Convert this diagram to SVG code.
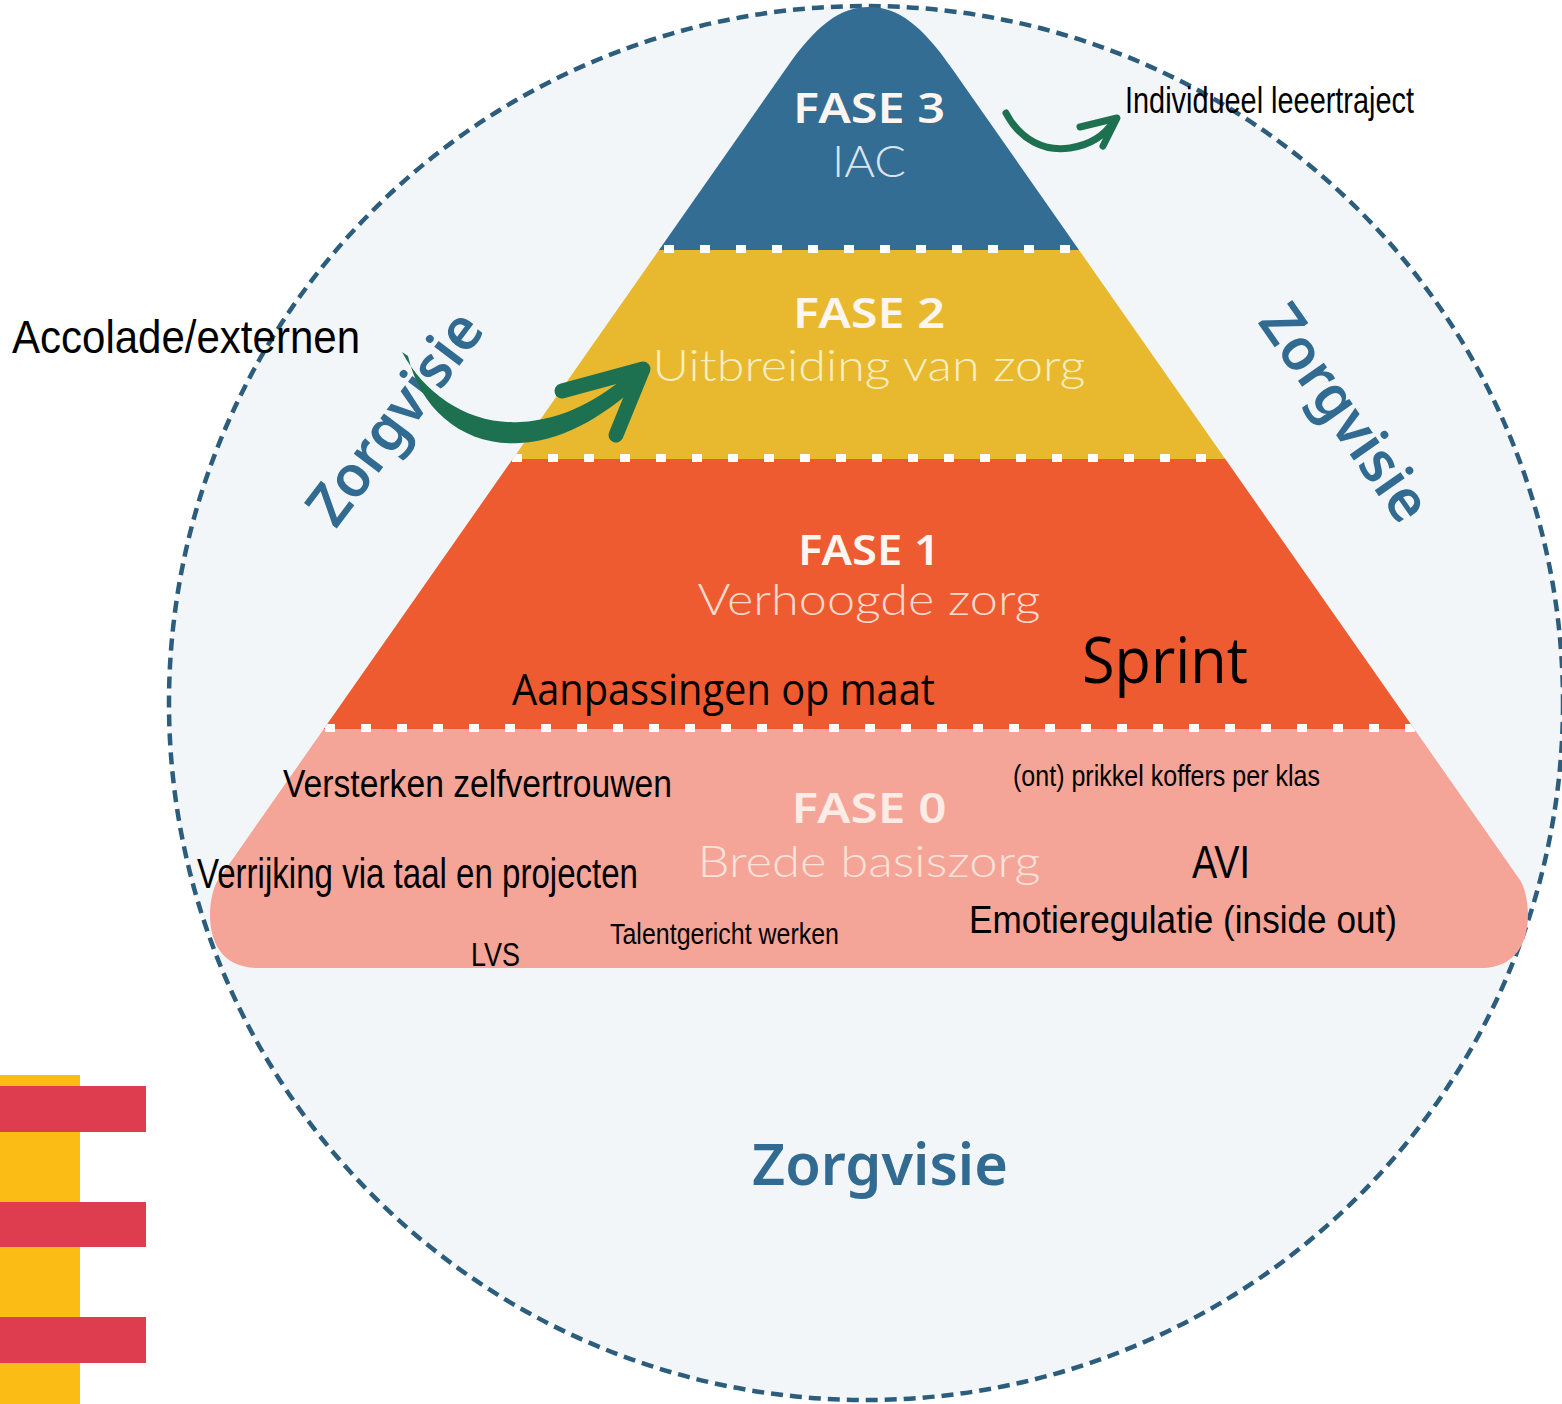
<svg xmlns="http://www.w3.org/2000/svg" width="1562" height="1404" viewBox="0 0 1562 1404">
<style>
.fase{font-family:"Noto Sans","Open Sans",sans-serif;font-weight:600;fill:#fdf5f0;text-anchor:middle}
.sub{font-family:Lato,"Open Sans",sans-serif;font-weight:300;text-anchor:middle}
.zv{font-family:"Noto Sans","Open Sans",sans-serif;font-weight:600;fill:#316b92;text-anchor:middle}
.blk{font-family:"Liberation Sans",Arial,sans-serif;fill:#000}
.cal{font-family:"Open Sans","Liberation Sans",sans-serif;fill:#000}
.sep{stroke:#ffffff;stroke-width:8;stroke-dasharray:10 26;fill:none}
.arrow{fill:none;stroke:#1e7150;stroke-linecap:round;stroke-linejoin:round}
</style>
<defs>
<clipPath id="pyr">
<path d="M785,70 C816,25 840,7 869,7 C898,7 922,25 953,70 L1520,880 C1531,896 1540,968 1480,968 L258,968 C198,968 207,896 218,880 Z"/>
</clipPath>
</defs>
<rect width="1562" height="1404" fill="#ffffff"/>
<circle id="circle" cx="866" cy="703" r="697" fill="#f3f6f9" stroke="#2c5d7c" stroke-width="4.5" stroke-dasharray="12 7"/>

<g id="pyramid" clip-path="url(#pyr)">
<g id="fase3"><rect x="0" y="0" width="1562" height="250" fill="#336d94"/></g>
<g id="fase2"><rect x="0" y="250" width="1562" height="209" fill="#e8b92e"/></g>
<g id="fase1"><rect x="0" y="459" width="1562" height="270" fill="#ef5b31"/></g>
<g id="fase0"><rect x="0" y="729" width="1562" height="260" fill="#f4a597"/></g>
<line class="sep" x1="664" y1="249" x2="1080" y2="249"/>
<line class="sep" x1="512" y1="458" x2="1230" y2="458"/>
<line class="sep" x1="325" y1="728" x2="1420" y2="728"/>
</g>

<g id="fase-labels">
<text class="fase" x="869" y="123" font-size="42" textLength="152" lengthAdjust="spacingAndGlyphs">FASE 3</text>
<text class="sub" x="869" y="177" font-size="44" fill="#d9e4ed" textLength="74" lengthAdjust="spacingAndGlyphs">IAC</text>
<text class="fase" x="869" y="328" font-size="42" textLength="152" lengthAdjust="spacingAndGlyphs">FASE 2</text>
<text class="sub" x="869" y="381" font-size="44" fill="#f8eec0" textLength="433" lengthAdjust="spacingAndGlyphs">Uitbreiding van zorg</text>
<text class="fase" x="869" y="565" font-size="42" textLength="142" lengthAdjust="spacingAndGlyphs">FASE 1</text>
<text class="sub" x="869" y="615" font-size="44" fill="#fbdacd" textLength="343" lengthAdjust="spacingAndGlyphs">Verhoogde zorg</text>
<text class="fase" x="869" y="823" font-size="42" textLength="155" lengthAdjust="spacingAndGlyphs" style="fill:#fdece6">FASE 0</text>
<text class="sub" x="869" y="877" font-size="44" fill="#fbe2db" textLength="343" lengthAdjust="spacingAndGlyphs">Brede basiszorg</text>
</g>

<g id="zorgvisie">
<text class="zv" x="880" y="1185" font-size="58" textLength="256" lengthAdjust="spacingAndGlyphs">Zorgvisie</text>
<g transform="translate(395,418) rotate(-53)"><text class="zv" x="0" y="20" font-size="58" textLength="250" lengthAdjust="spacingAndGlyphs">Zorgvisie</text></g>
<g transform="translate(1345,413) rotate(55)"><text class="zv" x="0" y="20" font-size="58" textLength="250" lengthAdjust="spacingAndGlyphs">Zorgvisie</text></g>
</g>

<g id="annotations">
<text class="blk" x="12" y="353" font-size="46" textLength="348" lengthAdjust="spacingAndGlyphs">Accolade/externen</text>
<text class="blk" x="1125" y="113" font-size="37" textLength="289" lengthAdjust="spacingAndGlyphs">Individueel leeertraject</text>
<text class="cal" x="512" y="705" font-size="44" textLength="423" lengthAdjust="spacingAndGlyphs">Aanpassingen op maat</text>
<text class="cal" x="1082" y="683" font-size="64" textLength="166" lengthAdjust="spacingAndGlyphs">Sprint</text>
<text class="blk" x="283" y="797" font-size="38" textLength="389" lengthAdjust="spacingAndGlyphs">Versterken zelfvertrouwen</text>
<text class="blk" x="1013" y="786" font-size="30" textLength="307" lengthAdjust="spacingAndGlyphs">(ont) prikkel koffers per klas</text>
<text class="blk" x="197" y="888" font-size="42" textLength="441" lengthAdjust="spacingAndGlyphs">Verrijking via taal en projecten</text>
<text class="blk" x="1192" y="878" font-size="46" textLength="58" lengthAdjust="spacingAndGlyphs">AVI</text>
<text class="blk" x="969" y="933" font-size="39" textLength="428" lengthAdjust="spacingAndGlyphs">Emotieregulatie (inside out)</text>
<text class="blk" x="610" y="944" font-size="30" textLength="229" lengthAdjust="spacingAndGlyphs">Talentgericht werken</text>
<text class="blk" x="471" y="966" font-size="33" textLength="49" lengthAdjust="spacingAndGlyphs">LVS</text>
</g>

<g id="connectors">
<path d="M402,352 C425,395 470,425 520,422 C565,420 600,398 632,372 L642,382 C610,410 570,440 520,443 C465,447 420,410 408,356 Z" fill="#1e7150"/>
<path class="arrow" stroke-width="15" d="M562,391 L643,369 L616,435"/>
<path class="arrow" stroke-width="7" d="M1006,113 C1020,140 1045,152 1070,148 C1090,145 1105,135 1114,121"/>
<path class="arrow" stroke-width="7" d="M1080,127 L1117,118 L1103,146"/>
</g>

<g id="bars">
<rect x="0" y="1075" width="80" height="329" fill="#fbbc15"/>
<rect x="0" y="1086" width="146" height="46" fill="#dd3d4f"/>
<rect x="0" y="1202" width="146" height="45" fill="#dd3d4f"/>
<rect x="0" y="1317" width="146" height="46" fill="#dd3d4f"/>
</g>
</svg>
